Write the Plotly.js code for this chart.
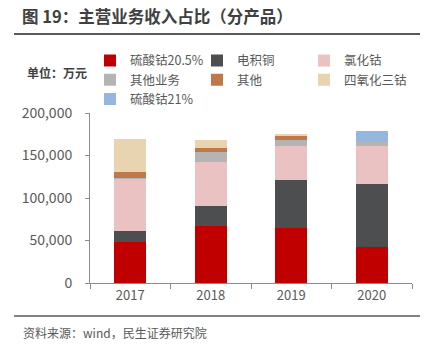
<!DOCTYPE html>
<html>
<head>
<meta charset="utf-8">
<script src="https://cdn.plot.ly/plotly-3.0.1.min.js"></script>
<style>html,body{margin:0;padding:0;background:#fff;}#chart{width:425px;height:355px;}</style>
</head>
<body>
<div id="chart"></div>
<script>
const years = ['2017', '2018', '2019', '2020'];
const seriesNames = ['硫酸钴20.5%', '电积铜', '氯化钴', '其他业务', '其他', '四氧化三钴', '硫酸钴21%'];
const cobaltSulfate205 = [48500, 67300, 65000, 42200];
const electroCopper = [12500, 23000, 56300, 74400];
const cobaltChloride = [61500, 51500, 40000, 44500];
const otherBusiness = [1500, 12300, 7000, 4800];
const others = [7000, 5000, 4700, 0];
const cobaltOxide = [38700, 9500, 2000, 0];
const cobaltSulfate21 = [0, 0, 0, 13300];
const yTicks = [0, 50000, 100000, 150000, 200000];
const yTickText = ['0', '50,000', '100,000', '150,000', '200,000'];

const seriesValues = [cobaltSulfate205, electroCopper, cobaltChloride, otherBusiness, others, cobaltOxide, cobaltSulfate21];
const colors = ['#C00000', '#4D4E50', '#EBC2C2', '#B4B4B4', '#C0784A', '#E9D4B2', '#95B6DE'];

const font = 'Noto Sans CJK SC, Noto Sans, sans-serif';
const traces = seriesValues.map((vals, i) => ({
  type: 'bar',
  x: years,
  y: vals,
  name: seriesNames[i],
  marker: {color: colors[i], line: {width: 0}},
  width: 0.4,
  hoverinfo: 'x+y+name'
}));

const layout = {
  width: 425, height: 355,
  margin: {l: 90, r: 13, t: 113, b: 72, autoexpand: false},
  paper_bgcolor: '#fff', plot_bgcolor: '#fff',
  barmode: 'stack',
  font: {family: font, color: '#595959', size: 13},
  title: {
    text: '<b>图 19：主营业务收入占比（分产品）</b>',
    x: 0.052, xref: 'container', xanchor: 'left',
    y: 0.952, yref: 'container', yanchor: 'middle',
    font: {family: font, size: 16.5, color: '#404040'}
  },
  xaxis: {
    type: 'category',
    showline: true, linecolor: '#8C8C8C', linewidth: 1,
    ticks: 'outside', tickson: 'boundaries', ticklen: 5, tickcolor: '#8C8C8C',
    showgrid: false, zeroline: false,
    tickfont: {family: font, size: 13, color: '#595959'}
  },
  yaxis: {
    range: [0, 200000],
    tickvals: yTicks, ticktext: yTickText,
    showline: true, linecolor: '#8C8C8C', linewidth: 1,
    ticks: 'outside', ticklen: 4, tickcolor: '#8C8C8C',
    ticklabelstandoff: 10,
    showgrid: false, zeroline: false,
    tickfont: {family: font, size: 14, color: '#595959'}
  },
  showlegend: true,
  legend: {
    orientation: 'h',
    x: 0, xanchor: 'left',
    y: 1.395, yanchor: 'top',
    entrywidth: 62,
    itemwidth: 30,
    traceorder: 'normal',
    font: {family: font, size: 12.5, color: '#595959'},
    bgcolor: 'rgba(0,0,0,0)'
  },
  shapes: [
    {type: 'line', xref: 'paper', yref: 'paper', x0: -0.236, x1: 1.025, y0: 1.465, y1: 1.465, line: {color: '#595959', width: 2}},
    {type: 'line', xref: 'paper', yref: 'paper', x0: -0.236, x1: 1.025, y0: -0.194, y1: -0.194, line: {color: '#595959', width: 1.5}}
  ],
  annotations: [
    {text: '<b>单位：万元</b>', xref: 'paper', yref: 'paper', x: -0.202, y: 1.241, xanchor: 'left', yanchor: 'middle', showarrow: false, font: {family: font, size: 12, color: '#404040'}},
    {text: '资料来源：wind，民生证券研究院', xref: 'paper', yref: 'paper', x: -0.214, y: -0.294, xanchor: 'left', yanchor: 'middle', showarrow: false, font: {family: font, size: 12, color: '#595959'}}
  ]
};

Plotly.newPlot('chart', traces, layout, {displayModeBar: false, staticPlot: true});
</script>
</body>
</html>
